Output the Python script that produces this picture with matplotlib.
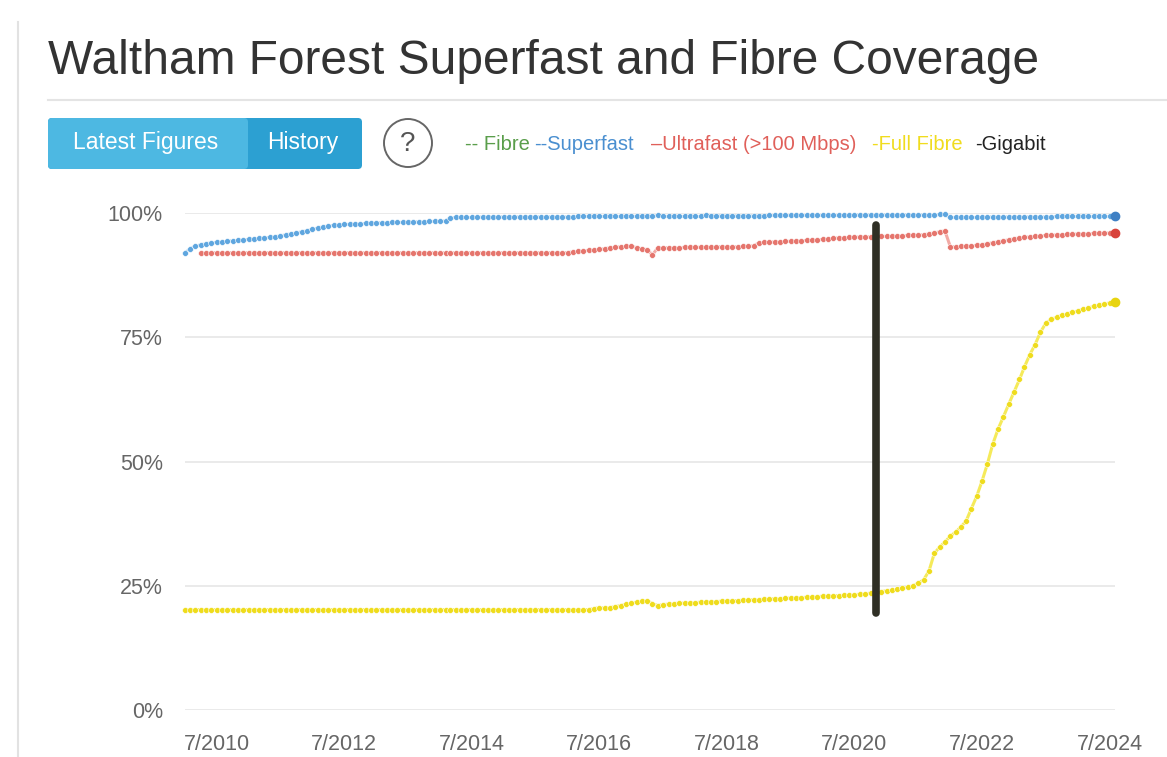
import numpy as np
import pandas as pd
import matplotlib
matplotlib.use("Agg")
import matplotlib.pyplot as plt
from matplotlib.patches import FancyBboxPatch, Rectangle, Circle

plt.rcParams['font.family'] = ['Liberation Sans', 'DejaVu Sans']

# monthly coverage, Jan 2010 - Aug 2024 (%)
months = pd.date_range("2010-01-01", periods=176, freq="MS")

superfast = [
    92.0, 92.8, 93.3, 93.6, 93.8, 94.0, 94.1, 94.2, 94.3, 94.4, 94.5, 94.6,
    94.7, 94.8, 94.9, 95.0, 95.1, 95.2, 95.4, 95.6, 95.8, 96.0, 96.2, 96.4,
    96.7, 97.0, 97.2, 97.4, 97.5, 97.6, 97.7, 97.7, 97.8, 97.8, 97.9, 97.9,
    98.0, 98.0, 98.0, 98.1, 98.1, 98.1, 98.2, 98.2, 98.2, 98.2, 98.3, 98.3,
    98.3, 98.4, 99.0, 99.1, 99.1, 99.1, 99.1, 99.1, 99.2, 99.2, 99.2, 99.2,
    99.2, 99.2, 99.2, 99.2, 99.2, 99.2, 99.2, 99.2, 99.2, 99.2, 99.2, 99.2,
    99.2, 99.2, 99.3, 99.3, 99.3, 99.3, 99.3, 99.3, 99.3, 99.3, 99.3, 99.3,
    99.3, 99.3, 99.3, 99.3, 99.3, 99.5, 99.3, 99.3, 99.3, 99.3, 99.3, 99.3,
    99.3, 99.3, 99.5, 99.4, 99.4, 99.4, 99.4, 99.4, 99.4, 99.4, 99.4, 99.4,
    99.4, 99.4, 99.5, 99.5, 99.5, 99.5, 99.5, 99.5, 99.5, 99.5, 99.5, 99.5,
    99.5, 99.5, 99.5, 99.5, 99.5, 99.5, 99.6, 99.6, 99.6, 99.6, 99.6, 99.6,
    99.6, 99.6, 99.6, 99.6, 99.6, 99.6, 99.6, 99.6, 99.6, 99.6, 99.7, 99.7,
    99.1, 99.1, 99.1, 99.1, 99.1, 99.1, 99.1, 99.2, 99.2, 99.2, 99.2, 99.2,
    99.2, 99.2, 99.2, 99.2, 99.2, 99.2, 99.2, 99.2, 99.3, 99.3, 99.3, 99.3,
    99.3, 99.3, 99.3, 99.3, 99.3, 99.3, 99.3, 99.3,
]

ultrafast = [
    np.nan, np.nan, np.nan, 92.0, 92.0, 92.0, 92.0, 92.0, 92.0, 92.0, 92.0, 92.0,
    92.0, 92.0, 92.0, 92.0, 92.0, 92.0, 92.0, 92.0, 92.0, 92.0, 92.0, 92.0,
    92.0, 92.0, 92.0, 92.0, 92.0, 92.0, 92.0, 92.0, 92.0, 92.0, 92.0, 92.0,
    92.0, 92.0, 92.0, 92.0, 92.0, 92.0, 92.0, 92.0, 92.0, 92.0, 92.0, 92.0,
    92.0, 92.0, 92.0, 92.0, 92.0, 92.0, 92.0, 92.0, 92.0, 92.0, 92.0, 92.0,
    92.0, 92.0, 92.0, 92.0, 92.0, 92.0, 92.0, 92.0, 92.0, 92.0, 92.0, 92.0,
    92.0, 92.2, 92.3, 92.4, 92.5, 92.6, 92.7, 92.8, 93.0, 93.1, 93.2, 93.3,
    93.3, 93.0, 92.8, 92.6, 91.6, 93.0, 93.0, 93.0, 93.0, 93.0, 93.1, 93.1,
    93.1, 93.1, 93.1, 93.1, 93.2, 93.2, 93.2, 93.2, 93.2, 93.3, 93.3, 93.4,
    94.0, 94.1, 94.1, 94.2, 94.2, 94.3, 94.3, 94.4, 94.4, 94.5, 94.5, 94.6,
    94.7, 94.8, 94.9, 95.0, 95.0, 95.1, 95.1, 95.2, 95.2, 95.2, 95.2, 95.3,
    95.3, 95.3, 95.4, 95.4, 95.5, 95.5, 95.6, 95.6, 95.8, 96.0, 96.2, 96.4,
    93.2, 93.2, 93.3, 93.3, 93.4, 93.5, 93.6, 93.8, 94.0, 94.2, 94.4, 94.6,
    94.8, 95.0, 95.1, 95.2, 95.3, 95.4, 95.5, 95.5, 95.6, 95.6, 95.7, 95.7,
    95.8, 95.8, 95.8, 95.9, 95.9, 95.9, 96.0, 96.0,
]

full_fibre = [
    20.2, 20.2, 20.2, 20.2, 20.2, 20.2, 20.2, 20.2, 20.2, 20.2, 20.2, 20.2,
    20.2, 20.2, 20.2, 20.2, 20.2, 20.2, 20.2, 20.2, 20.2, 20.2, 20.2, 20.2,
    20.2, 20.2, 20.2, 20.2, 20.2, 20.2, 20.2, 20.2, 20.2, 20.2, 20.2, 20.2,
    20.2, 20.2, 20.2, 20.2, 20.2, 20.2, 20.2, 20.2, 20.2, 20.2, 20.2, 20.2,
    20.2, 20.2, 20.2, 20.2, 20.2, 20.2, 20.2, 20.2, 20.2, 20.2, 20.2, 20.2,
    20.2, 20.2, 20.2, 20.2, 20.2, 20.2, 20.2, 20.2, 20.2, 20.2, 20.2, 20.2,
    20.2, 20.2, 20.2, 20.2, 20.2, 20.4, 20.6, 20.5, 20.6, 20.8, 21.0, 21.3,
    21.5, 21.7, 21.9, 22.0, 21.4, 21.0, 21.2, 21.3, 21.4, 21.5, 21.5, 21.6,
    21.6, 21.7, 21.7, 21.8, 21.8, 21.9, 21.9, 22.0, 22.0, 22.1, 22.1, 22.2,
    22.2, 22.3, 22.3, 22.4, 22.4, 22.5, 22.5, 22.6, 22.6, 22.7, 22.7, 22.8,
    22.9, 22.9, 23.0, 23.0, 23.1, 23.1, 23.2, 23.3, 23.4, 23.5, 23.6, 23.8,
    24.0, 24.1, 24.3, 24.5, 24.7, 25.0, 25.5, 26.2, 28.0, 31.5, 32.8, 33.8,
    35.0, 35.8, 36.8, 38.0, 40.5, 43.0, 46.0, 49.5, 53.5, 56.5, 59.0, 61.5,
    64.0, 66.5, 69.0, 71.5, 73.5, 76.0, 77.8, 78.6, 79.0, 79.4, 79.7, 80.0,
    80.3, 80.6, 80.9, 81.2, 81.5, 81.7, 81.9, 82.1,
]

# gigabit jump marked by hand on the chart
gigabit_date = pd.Timestamp("2020-11-01")
gigabit_from, gigabit_to = 19.5, 97.5

y_ticks = [0, 25, 50, 75, 100]
x_ticks = pd.to_datetime(["2010-07-01", "2012-07-01", "2014-07-01", "2016-07-01",
                          "2018-07-01", "2020-07-01", "2022-07-01", "2024-07-01"])

legend_items = [("-- Fibre", "#5a9e4b", 465), ("--Superfast", "#4a8fd0", 534),
                ("\u2013Ultrafast (>100 Mbps)", "#e0605a", 651),
                ("-Full Fibre", "#f0dc1e", 872), ("-Gigabit", "#222222", 975)]

W, H = 1167, 757
fig = plt.figure(figsize=(W / 100, H / 100), dpi=100)

# page chrome in pixel coordinates
bg = fig.add_axes([0, 0, 1, 1])
bg.set_xlim(0, W)
bg.set_ylim(H, 0)
bg.axis("off")
bg.plot([18, 18], [22, H], color="#e2e2e2", lw=1.5)
bg.text(48, 62, "Waltham Forest Superfast and Fibre Coverage", fontsize=34.5,
        color="#333333", va="center", ha="left")
bg.plot([48, W], [100, 100], color="#e4e4e4", lw=1.5)

bg.add_patch(FancyBboxPatch((48, 118), 314, 51, boxstyle="round,pad=0,rounding_size=4",
                            fc="#2ca0d2", ec="none"))
bg.add_patch(FancyBboxPatch((48, 118), 200, 51, boxstyle="round,pad=0,rounding_size=4",
                            fc="#4db8e2", ec="none"))
bg.add_patch(Rectangle((200, 118), 43, 51, fc="#4db8e2", ec="none"))
bg.text(146, 143, "Latest Figures", color="white", fontsize=16.5, ha="center", va="center")
bg.text(303, 143, "History", color="white", fontsize=16.5, ha="center", va="center")
bg.add_patch(Circle((408, 143), 24, fc="white", ec="#666666", lw=1.4))
bg.text(408, 144, "?", color="#555555", fontsize=20, ha="center", va="center")
for label, col, x in legend_items:
    bg.text(x, 144, label, color=col, fontsize=14.5, ha="left", va="center")

# chart area
left, right, top, bottom = 185, 1115, 213, 710
ax = fig.add_axes([left / W, (H - bottom) / H, (right - left) / W, (bottom - top) / H])
ax.set_facecolor("none")
ax.set_ylim(0, 100)
ax.set_xlim(months[0], months[-1])

for y in y_ticks:
    ax.axhline(y, color="#e6e6e6", lw=1.2, zorder=0)

series = [
    (superfast, "#9ccbef", "#5fa6df", "#3f80c4"),
    (ultrafast, "#f2aaa5", "#e5756d", "#d8433c"),
    (full_fibre, "#f5ea5a", "#efdc1c", "#e8d410"),
]
for vals, line_col, mk_col, end_col in series:
    ax.plot(months, vals, color=line_col, lw=2.2, marker="o", ms=4.2,
            mfc=mk_col, mec="white", mew=0.4, clip_on=False, zorder=3)
    ax.plot(months[-1:], vals[-1:], "o", ms=6, color=end_col, clip_on=False, zorder=4)

ax.plot([gigabit_date, gigabit_date], [gigabit_from, gigabit_to], color="#2f2f25",
        lw=5.5, solid_capstyle="round", zorder=5, clip_on=False)

for s in ax.spines.values():
    s.set_visible(False)
ax.set_yticks(y_ticks)
ax.set_yticklabels([f"{v}%" for v in y_ticks])
ax.set_xticks(x_ticks)
ax.set_xticklabels([f"{d.month}/{d.year}" for d in x_ticks])
ax.tick_params(length=0, labelsize=15.5, colors="#666666")
ax.tick_params(axis="y", pad=16)
ax.tick_params(axis="x", pad=17)

fig.savefig("out.png", dpi=100, facecolor="white")
